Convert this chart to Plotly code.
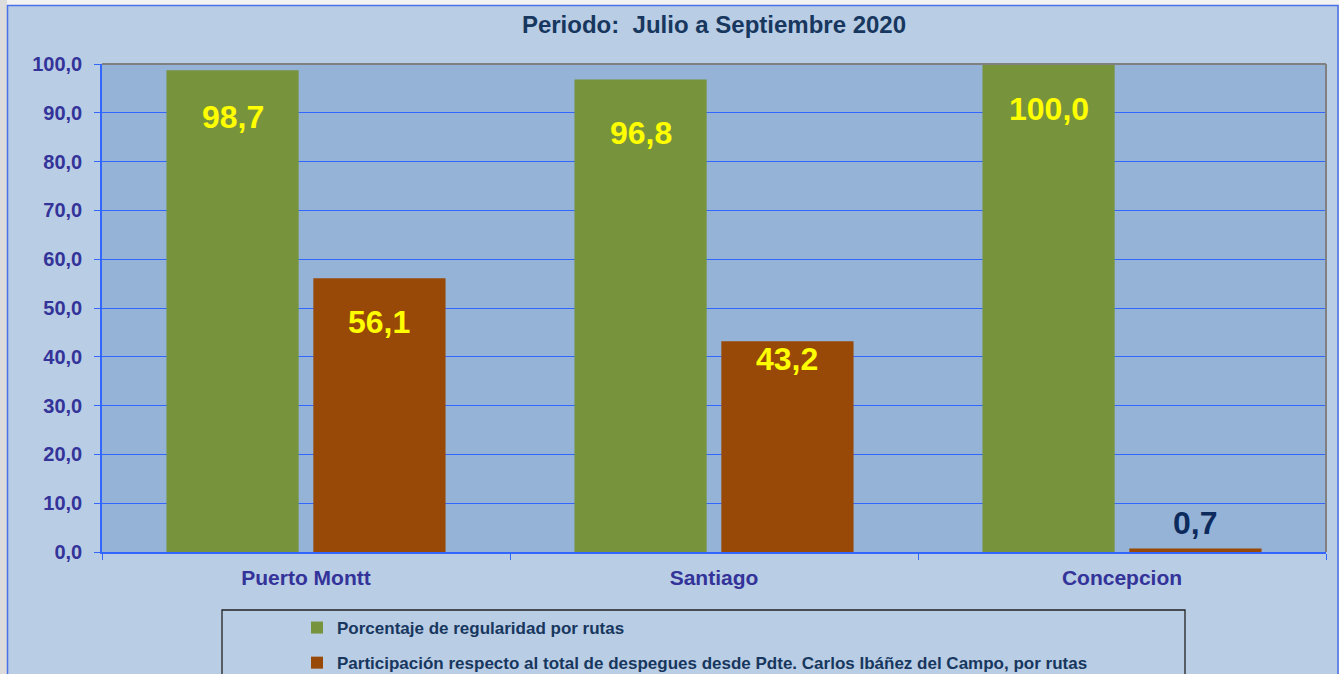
import plotly.graph_objects as go

categories = ["Puerto Montt", "Santiago", "Concepcion"]
regularidad = [98.7, 96.8, 100.0]
participacion = [56.1, 43.2, 0.7]
series_names = [
    "Porcentaje de regularidad por rutas",
    "Participación respecto al total de despegues desde Pdte. Carlos Ibáñez del Campo, por rutas",
]
title_text = "Periodo:  Julio a Septiembre 2020"
y_ticks = [0, 10, 20, 30, 40, 50, 60, 70, 80, 90, 100]

# label styling (pixel offsets from bar tops)
reg_label_shift = [-47, -53, -45]
par_label_shift = [-44, -18, 26]
par_label_color = ["#ffff00", "#ffff00", "#0d2a5c"]

GREEN = "#77933c"
ORANGE = "#984807"
FONT = "Liberation Sans"
W, H = 1339, 674
ML, MR, MT, MB = 102, 13, 64, 122
PW, PH = W - ML - MR, H - MT - MB

def px(x):
    return (x - ML) / PW

def py(y):
    return (H - MB - y) / PH

fig = go.Figure()
fig.add_trace(go.Bar(x=categories, y=regularidad, name=series_names[0],
                     marker=dict(color=GREEN, line=dict(width=0)),
                     legendgroup="a"))
fig.add_trace(go.Bar(x=categories, y=participacion, name=series_names[1],
                     marker=dict(color=ORANGE, line=dict(width=0)),
                     legendgroup="b"))

annotations = []
bargap, bargroupgap = 0.28, 0.1
slot = PW / 3 * (1 - bargap) / 2
for i, c in enumerate(categories):
    annotations.append(dict(x=c, y=regularidad[i], xref="x", yref="y",
                            text=f"{regularidad[i]:.1f}".replace(".", ","),
                            showarrow=False, xshift=-slot / 2, yshift=reg_label_shift[i],
                            font=dict(family=FONT, size=32, color="#ffff00", weight="bold")))
    annotations.append(dict(x=c, y=participacion[i], xref="x", yref="y",
                            text=f"{participacion[i]:.1f}".replace(".", ","),
                            showarrow=False, xshift=slot / 2, yshift=par_label_shift[i],
                            font=dict(family=FONT, size=32, color=par_label_color[i], weight="bold")))

shapes = [
    # page strips
    dict(type="rect", xref="paper", yref="paper", x0=px(-5), x1=px(1345), y0=py(-5), y1=py(5),
         fillcolor="#f2f2f2", line=dict(width=0), layer="below"),
    dict(type="rect", xref="paper", yref="paper", x0=px(-5), x1=px(7), y0=py(-5), y1=py(680),
         fillcolor="#dcdcdc", line=dict(width=0), layer="below"),
    # chart border
    dict(type="rect", xref="paper", yref="paper", x0=px(7.5), x1=px(1338), y0=py(5.5), y1=py(690),
         fillcolor="rgba(0,0,0,0)", line=dict(color="#4a72e8", width=1.5), layer="below"),
    # legend box
    dict(type="rect", xref="paper", yref="paper", x0=px(222), x1=px(1185), y0=py(610), y1=py(700),
         fillcolor="rgba(0,0,0,0)", line=dict(color="#222222", width=1.3), layer="below"),
    # plot top/right gray frame
    dict(type="line", xref="paper", yref="paper", x0=0, x1=1, y0=1, y1=1,
         line=dict(color="#808080", width=2), layer="above"),
    dict(type="line", xref="paper", yref="paper", x0=1, x1=1, y0=0, y1=1,
         line=dict(color="#808080", width=2), layer="above"),
]

fig.update_layout(
    width=W, height=H,
    margin=dict(l=ML, r=MR, t=MT, b=MB, autoexpand=False),
    paper_bgcolor="#b9cde5",
    plot_bgcolor="#95b3d7",
    separators=",.",
    barmode="group",
    bargap=bargap,
    bargroupgap=bargroupgap,
    title=dict(text=title_text, x=0.5, xref="paper", xanchor="center",
               y=1 - 25 / H, yanchor="middle",
               font=dict(family=FONT, size=24, color="#17375e", weight="bold")),
    xaxis=dict(showgrid=False, showline=True, linecolor="#3366ff", linewidth=1.5,
               ticks="outside", ticklen=6, tickcolor="#3366ff", tickson="boundaries",
               ticklabelstandoff=6,
               tickfont=dict(family=FONT, size=21, color="#333399", weight="bold")),
    yaxis=dict(range=[0, 100], tickvals=y_ticks, tickformat=".1f",
               showgrid=True, gridcolor="#3366ff", gridwidth=1,
               showline=True, linecolor="#3366ff", linewidth=1.5,
               ticks="outside", ticklen=6, tickcolor="#3366ff", ticklabelstandoff=8,
               zeroline=False,
               tickfont=dict(family=FONT, size=20, color="#333399", weight="bold")),
    showlegend=True,
    legend=dict(x=px(297), y=py(610), xanchor="left", yanchor="top",
                bgcolor="rgba(0,0,0,0)", borderwidth=0, tracegroupgap=10,
                font=dict(family=FONT, size=17, color="#17375e", weight="bold")),
    annotations=annotations,
    shapes=shapes,
)

fig.write_html("out.html",
               config={"displayModeBar": False},
               post_script="document.body.style.margin='0';document.body.style.padding='0';document.body.style.overflow='hidden';")
